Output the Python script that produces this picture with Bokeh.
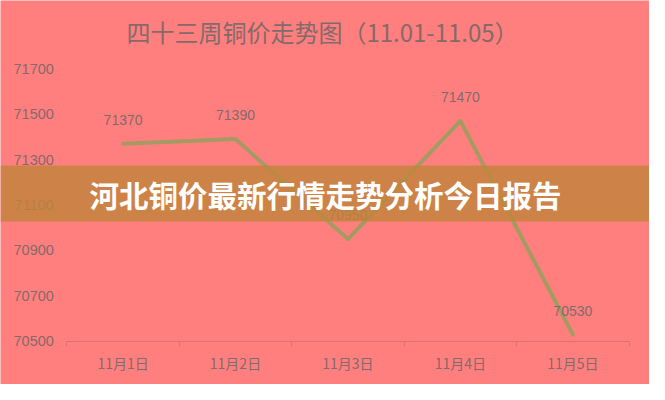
from bokeh.plotting import figure
from bokeh.models import Range1d, Label, BoxAnnotation, ColumnDataSource, FixedTicker
from bokeh.core.properties import value
from bokeh.embed import file_html
from bokeh.resources import INLINE

dates = ["11月1日", "11月2日", "11月3日", "11月4日", "11月5日"]
prices = [71370, 71390, 70950, 71470, 70530]
y_ticks = [70500, 70700, 70900, 71100, 71300, 71500, 71700]
title_text = "四十三周铜价走势图（11.01-11.05）"
banner_text = "河北铜价最新行情走势分析今日报告"

BG = "#ff7f7f"
TXT = "#846a6a"
W, H = 649, 384

idx = list(range(len(dates)))

p = figure(width=W, height=H, x_range=Range1d(-1.09, 4.682), y_range=Range1d(70310, 72000),
           output_backend="svg", toolbar_location=None,
           min_border_left=0, min_border_right=0, min_border_top=0, min_border_bottom=0,
           x_axis_location="below", y_axis_location="left")
p.background_fill_color = BG
p.border_fill_color = BG
p.outline_line_color = None
p.xgrid.visible = False
p.ygrid.visible = False

# y axis drawn at the left edge of the category area
p.yaxis.fixed_location = -0.5
p.yaxis.ticker = FixedTicker(ticks=y_ticks)
p.yaxis.axis_line_color = None
p.yaxis.major_tick_line_color = None
p.yaxis.minor_tick_line_color = None
p.yaxis.major_label_standoff = 7
p.yaxis.major_label_text_font = "Liberation Sans"
p.yaxis.major_label_text_font_size = "14.5px"
p.yaxis.major_label_text_color = TXT

# x axis drawn at the bottom value, ticks between categories
p.xaxis.fixed_location = y_ticks[0]
p.xaxis.bounds = (-0.5, len(dates) - 0.5)
p.xaxis.ticker = FixedTicker(ticks=idx, minor_ticks=[i - 0.5 for i in range(len(dates) + 1)])
p.xaxis.major_label_overrides = {i: d for i, d in zip(idx, dates)}
p.xaxis.axis_line_color = "#d87474"
p.xaxis.axis_line_width = 1.2
p.xaxis.major_tick_line_color = None
p.xaxis.major_tick_out = 0
p.xaxis.major_tick_in = 0
p.xaxis.minor_tick_line_color = "#d87474"
p.xaxis.minor_tick_out = 5
p.xaxis.minor_tick_in = 0
p.xaxis.major_label_standoff = 7
p.xaxis.major_label_text_font = "Noto Sans CJK SC"
p.xaxis.major_label_text_font_size = "14px"
p.xaxis.major_label_text_color = TXT

src = ColumnDataSource(dict(x=idx, y=prices, label=[str(v) for v in prices]))
p.line("x", "y", source=src, line_color="#a59b62", line_width=4, line_join="round", line_cap="round")
p.text("x", "y", text="label", source=src, y_offset=-24, text_align="center", text_baseline="middle",
       text_font=value("Liberation Sans"), text_font_size="14px", text_color=TXT)

p.add_layout(Label(x=322, y=31, x_units="canvas", y_units="canvas", text=title_text,
                   text_align="center", text_baseline="middle", text_font="Noto Sans CJK SC",
                   text_font_size="24px", text_color=TXT))

p.add_layout(BoxAnnotation(left=0, right=W, top=165, bottom=221, left_units="canvas",
                           right_units="canvas", top_units="canvas", bottom_units="canvas",
                           fill_color=(193, 133, 58), fill_alpha=0.8, line_color=None,
                           level="overlay"))
p.add_layout(Label(x=325, y=193, x_units="canvas", y_units="canvas", text=banner_text,
                   text_align="center", text_baseline="middle", text_font="Noto Sans CJK SC",
                   text_font_style="bold", text_font_size="29.5px", text_color="white",
                   level="overlay"))

open("out.html", "w").write(file_html(p, INLINE))
